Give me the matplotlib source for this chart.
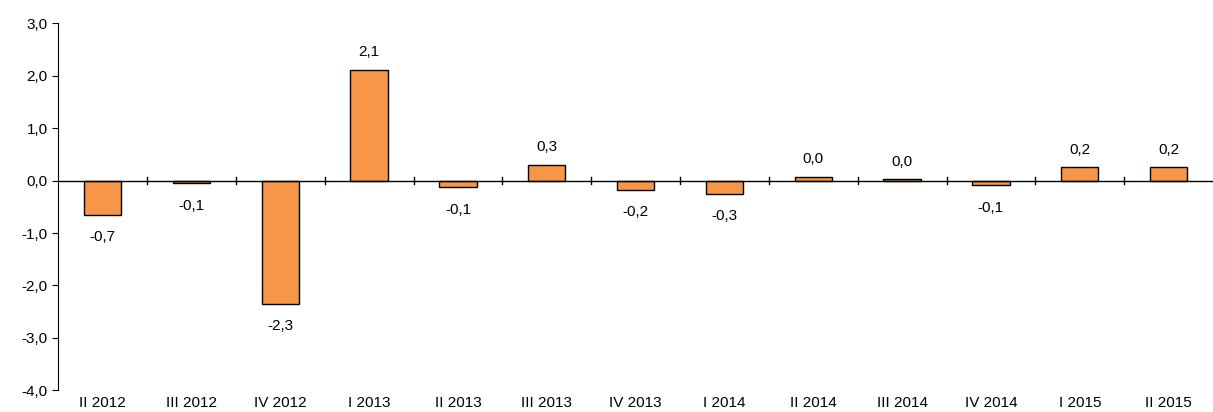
import matplotlib.pyplot as plt
import numpy as np

categories = ["II 2012", "III 2012", "IV 2012", "I 2013", "II 2013", "III 2013", "IV 2013",
              "I 2014", "II 2014", "III 2014", "IV 2014", "I 2015", "II 2015"]
values = [-0.65, -0.05, -2.35, 2.12, -0.12, 0.30, -0.17, -0.25, 0.07, 0.03, -0.08, 0.26, 0.26]
labels = ["-0,7", "-0,1", "-2,3", "2,1", "-0,1", "0,3", "-0,2", "-0,3", "0,0", "0,0", "-0,1", "0,2", "0,2"]

plt.rcParams["font.family"] = ["Liberation Sans", "DejaVu Sans"]
fig = plt.figure(figsize=(12.13, 4.12), dpi=100)
ax = fig.add_axes([0.048, 0.053, 0.952, 0.89])
x = np.arange(len(categories))
ax.bar(x, values, width=0.42, color="#F79646", edgecolor="black", linewidth=1)
for xi, v, lab in zip(x, values, labels):
    if v >= 0:
        ax.text(xi, v + 0.2, lab, ha="center", va="bottom", fontsize=11)
    else:
        ax.text(xi, v - 0.3, lab, ha="center", va="top", fontsize=11)
ax.set_xlim(-0.5, len(categories) - 0.5)
ax.set_ylim(-4, 3)
ax.set_yticks(np.arange(-4, 3.01, 1))
ax.set_yticklabels([f"{t:.1f}".replace(".", ",") for t in np.arange(-4, 3.01, 1)], fontsize=11)
ax.axhline(0, color="black", lw=1)
for b in np.arange(0.5, len(categories) - 0.5, 1):
    ax.plot([b, b], [-0.07, 0.07], color="black", lw=1)
ax.set_xticks(x)
ax.set_xticklabels(categories, fontsize=11)
ax.tick_params(axis="x", length=0, pad=4)
ax.tick_params(axis="y", length=4)
for s in ["top", "right", "bottom"]:
    ax.spines[s].set_visible(False)
fig.savefig("out.png")
